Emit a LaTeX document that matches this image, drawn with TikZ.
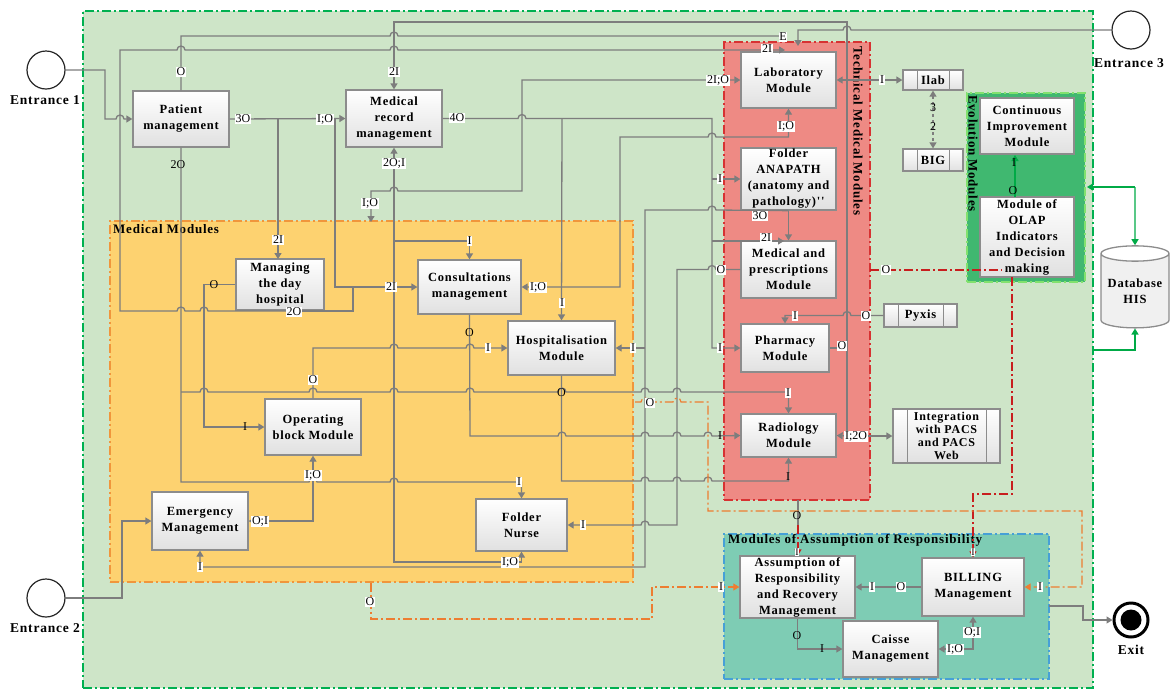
\documentclass[tikz,border=0pt]{standalone}
\usepackage{fontspec}
\setmainfont{Liberation Serif}
\newfontfamily\bxf[LetterSpace=6]{Liberation Serif}
\newfontfamily\lbf{Liberation Serif}
\usetikzlibrary{arrows.meta,shapes.geometric,calc}
\definecolor{bggreen}{RGB}{206,229,200}
\definecolor{brdgreen}{RGB}{0,176,80}
\definecolor{medfill}{RGB}{253,210,112}
\definecolor{medbrd}{RGB}{240,150,60}
\definecolor{techfill}{RGB}{238,138,132}
\definecolor{techbrd}{RGB}{215,50,50}
\definecolor{evofill}{RGB}{64,184,112}
\definecolor{evobrd}{RGB}{130,225,110}
\definecolor{assfill}{RGB}{126,204,180}
\definecolor{assbrd}{RGB}{70,160,215}
\definecolor{lgray}{RGB}{125,125,125}
\definecolor{bgray}{RGB}{140,140,140}
\definecolor{arrred}{RGB}{200,30,30}
\definecolor{arrorange}{RGB}{237,125,49}
\definecolor{grnline}{RGB}{0,170,70}
\tikzset{
 box/.style={draw=bgray, line width=1.3pt, top color=white, bottom color=black!12, align=center, inner sep=0pt, font=\bxf\bfseries\fontsize{12.5}{16}\selectfont},
 sub/.style={box, path picture={\draw[bgray,line width=1pt] ([xshift=14pt]path picture bounding box.north west) -- ([xshift=14pt]path picture bounding box.south west) ([xshift=-14pt]path picture bounding box.north east) -- ([xshift=-14pt]path picture bounding box.south east);}},
 ln/.style={draw=lgray, line width=1.3pt},
 arr/.style={-{Triangle[width=7pt,length=6pt]}},
 darr/.style={{Triangle[width=7pt,length=6pt]}-{Triangle[width=7pt,length=6pt]}},
 dd/.style={dash pattern=on 9pt off 3pt on 2pt off 3pt},
 cont/.style={line width=1.3pt, dd, inner sep=0pt, outer sep=0pt},
 reddd/.style={draw=arrred, line width=1.2pt, dd},
 orgdd/.style={draw=arrorange, line width=1.2pt, dd},
 grn/.style={draw=grnline, line width=1.3pt},
 lbl/.style={fill=white, inner sep=0.6pt, font=\lbf\fontsize{12}{12}\selectfont},
 nlbl/.style={inner sep=0.6pt, font=\lbf\fontsize{12}{12}\selectfont},
 slbl/.style={fill=white, inner sep=0.4pt, font=\lbf\fontsize{10}{10}\selectfont},
 ent/.style={circle, draw=black!85, fill=white, line width=1.2pt, minimum size=38pt, inner sep=0pt},
 entl/.style={font=\bxf\bfseries\fontsize{13.5}{15}\selectfont},
 ctitle/.style={font=\bxf\bfseries\fontsize{13}{14}\selectfont, inner sep=0pt},
 hr/.style 2 args={insert path={-- ({#1-4},#2) arc[start angle=180,end angle=360,radius=4]}},
 hl/.style 2 args={insert path={-- ({#1+4},#2) arc[start angle=0,end angle=-180,radius=4]}}
}
\begin{document}
\begin{tikzpicture}[x=1pt,y=-1pt]
\useasboundingbox (0,0) rectangle (1170,689);
% containers
\node[cont, draw=brdgreen, fill=bggreen, minimum width=1010pt, minimum height=677pt] (outer) at (588,349.5) {};
\node[cont, draw=medbrd, fill=medfill, minimum width=523pt, minimum height=361pt] (med) at (371.5,401.5) {};
\node[cont, draw=techbrd, fill=techfill, minimum width=146pt, minimum height=458pt] (tech) at (797,271) {};
\node[cont, draw=evobrd, fill=evofill, minimum width=118pt, minimum height=189pt] (evo) at (1026,187.5) {};
\node[cont, draw=assbrd, fill=assfill, minimum width=325pt, minimum height=145pt] (assc) at (886.5,606.5) {};
\node[ctitle, anchor=west] (medt) at (113,229) {Medical Modules};
\node[ctitle, anchor=west, rotate=-90] (techt) at (858,46) {Technical Medical Modules};
\node[ctitle, anchor=west, rotate=-90] (evot) at (973,95) {Evolution Modules};
\node[ctitle, anchor=west] (asst) at (728,540) {Modules of Assumption of Responsibility};

% entrances and exit
\node[ent] (e1) at (46,70) {};
\node[entl] (e1l) at (45,100) {Entrance 1};
\node[ent] (e2) at (46,598) {};
\node[entl] (e2l) at (45,628) {Entrance 2};
\node[ent] (e3) at (1131,30) {};
\node[entl] (e3l) at (1129,63) {Entrance 3};
\node[circle, draw=black, line width=3pt, fill=white, minimum size=34pt, inner sep=0pt] (exit) at (1131,620) {};
\node[circle, fill=black, minimum size=21pt, inner sep=0pt] (exitc) at (exit) {};
\node[entl] (exitl) at (1131,650) {Exit};

% boxes
\node[box, minimum width=96pt, minimum height=56pt] (pat) at (181,119) {Patient\\management};
\node[box, minimum width=96pt, minimum height=57pt] (mrm) at (394,118.5) {Medical\\record\\management};
\node[box, minimum width=95pt, minimum height=56pt] (lab) at (788.5,80) {Laboratory\\Module};
\node[box, minimum width=95pt, minimum height=62pt] (anapath) at (788.5,179) {Folder\\ANAPATH\\(anatomy and\\pathology)''};
\node[box, minimum width=95pt, minimum height=57pt] (medpresc) at (788.5,269.5) {Medical and\\prescriptions\\Module};
\node[box, minimum width=88pt, minimum height=48pt] (pharm) at (785,348) {Pharmacy\\Module};
\node[box, minimum width=95pt, minimum height=43pt] (radio) at (788.5,435.5) {Radiology\\Module};
\node[box, minimum width=94pt, minimum height=56pt] (cim) at (1027,126) {Continuous\\Improvement\\Module};
\node[box, minimum width=94pt, minimum height=80pt] (olap) at (1027,237) {Module of\\OLAP\\Indicators\\and Decision\\making};
\node[sub, minimum width=60pt, minimum height=20pt] (ilab) at (933,80) {Ilab};
\node[sub, minimum width=60pt, minimum height=22pt] (big) at (933,160) {BIG};
\node[sub, minimum width=73pt, minimum height=23pt] (pyxis) at (920.5,315.5) {Pyxis};
\node[sub, minimum width=107pt, minimum height=54pt, font=\bxf\bfseries\fontsize{12}{13}\selectfont] (pacs) at (946.5,436) {Integration\\with PACS\\and PACS\\Web};
\node[cylinder, shape border rotate=90, aspect=0.28, draw=bgray, line width=1.3pt, minimum width=68pt, minimum height=82pt, cylinder uses custom fill, cylinder body fill=black!6, cylinder end fill=white, align=center, inner sep=0pt, font=\bxf\bfseries\fontsize{12.5}{16}\selectfont] (db) at (1135,291) {Database\\HIS};
\node[box, minimum width=88pt, minimum height=51pt] (dayh) at (280,284.5) {Managing\\the day\\hospital};
\node[box, minimum width=103pt, minimum height=54pt] (consult) at (469.5,287) {Consultations\\management};
\node[box, minimum width=107pt, minimum height=54pt] (hosp) at (561.5,348) {Hospitalisation\\Module};
\node[box, minimum width=96pt, minimum height=56pt] (opblock) at (313,427) {Operating\\block Module};
\node[box, minimum width=96pt, minimum height=58pt] (emerg) at (200,521) {Emergency\\Management};
\node[box, minimum width=91pt, minimum height=52pt] (nurse) at (521.5,525) {Folder\\Nurse};
\node[box, minimum width=115pt, minimum height=62pt] (assump) at (797.5,587) {Assumption of\\Responsibility\\and Recovery\\Management};
\node[box, minimum width=102pt, minimum height=58pt] (billing) at (973,587) {BILLING\\Management};
\node[box, minimum width=95pt, minimum height=56pt] (caisse) at (890.5,649) {Caisse\\Management};

% connectors
\draw[ln,arr] (e1.east) -- (105,70) -- (105,119) [hr={120}{119}] -- (pat.west);
\draw[ln] (pat.north) -- (181,36) [hr={394}{36}] -- (783,36);
\draw[ln,arr] (300,311) [hl={204}{311}] [hl={181}{311}] -- (120,311) -- (120,50) [hr={181}{50}] [hr={394}{50}] -- (785,50);
\draw[ln] (300,311) -- (353,311) -- (353,287);
\draw[ln,arr] (pat.east) -- (mrm.west);
\draw[ln,arr] (278,119) -- (278,259);
\draw[ln,arr] (335,119) |- (consult.west);
\draw[ln,arr] (e3.west) [hl={847}{30}] -- (798,30) -- (798,46);
\draw[ln,arr] (847,436) -- (847,22) -- (394,22) -- (mrm.north);
\draw[ln,arr] (847,436) -- (radio.east);
\draw[ln,arr] (847,436) -- (pacs.west);
\draw[ln,darr] (mrm.south) -- (394,562) -| (nurse.south);
\draw[ln,arr] (394,241) -| (consult.north);
\draw[ln,arr] (mrm.east) [hr={522}{118.5}] -- (712,118.5) |- (pharm.west);
\draw[ln,arr] (712,179) -- (anapath.west);
\draw[ln,arr] (712,241) -- (784,241);
\draw[ln,arr] (562,118.5) -- (hosp.north);
\draw[ln,darr] (371,222) -- (371,191) [hr={394}{191}] -- (522,191) -- (522,80) -- (lab.west);
\draw[ln,darr] (lab.south) -- (788.5,137) [hl={712}{137}] -- (620,137) |- (consult.east);
\draw[ln,arr] (anapath.south) -- (medpresc.north);
\draw[ln,arr] (anapath.south) [hl={712}{210}] -- (645,210) -- (645,567) -| (emerg.south);
\draw[ln,arr] (645,348) -- (hosp.east);
\draw[ln,arr] (medpresc.west) [hl={712}{269.5}] -- (677,269.5) -- (677,525) [hl={645}{525}] -- (nurse.east);
\draw[ln,arr] (pyxis.west) [hl={847}{315.5}] -- (785,315.5) -- (pharm.north);
\draw[ln] (pharm.east) -- (847,348);
\draw[ln,darr] (lab.east) -- (ilab.west);
\draw[ln,darr,dashed] (ilab.south) -- (big.north);
\draw[ln,arr] (pat.south) -- (181,482) [hr={313}{482}] [hr={394}{482}] -| (nurse.north);
\draw[ln,arr] (181,392) [hr={204}{392}] [hr={313}{392}] [hr={394}{392}] [hr={470}{392}] [hr={562}{392}] [hr={645}{392}] [hr={677}{392}] -| (radio.north);
\draw[ln,arr] (dayh.west) -- (204,284.5) |- (opblock.west);
\draw[ln,arr] (opblock.north) -- (313,348) [hr={394}{348}] [hr={470}{348}] -- (hosp.west);
\draw[ln,arr] (consult.south) -- (470,436) [hr={562}{436}] [hr={645}{436}] [hr={677}{436}] [hr={708}{436}] -- (radio.west);
\draw[ln,arr] (hosp.south) -- (561.5,481) [hr={645}{481}] [hr={677}{481}] [hr={708}{481}] -| (radio.south);
\draw[ln,darr] (emerg.east) -| (opblock.south);
\draw[ln,arr] (e2.east) -- (122,598) |- (emerg.west);
\draw[ln] (798,500) -- (798,525);
\draw[reddd,arr] (798,525) -- (assump.north -| 798,0);
\draw[reddd] (870,270) -- (1002,270);
\draw[reddd,arr] (1012,277) -- (1012,494) -| (billing.north);
\draw[orgdd,arr] (635,402) [hr={645}{402}] [hr={677}{402}] -- (708,402) -- (708,511) -- (1082,511) |- (billing.east);
\draw[orgdd,arr] (371,583) -- (371,619) -- (652,619) |- (assump.west);
\draw[ln,arr] (billing.west) -- (assump.east);
\draw[ln,arr] (assump.south) |- (caisse.west);
\draw[ln,darr] (caisse.east) -| (billing.south);
\draw[ln,arr] (1049,606) -- (1083,606) |- (exit.west);
\draw[grn,arr] (1015,197) -- (1015,155);
\draw[grn,arr] (1135,187) -- (1087,187);
\draw[grn,arr] (1135,187) -- (db.north);
\draw[grn,arr] (1093,350) -- (1135,350) -- (db.south);

% port labels
\node[lbl] at (181,72) {O};
\node[lbl] at (783,37) {E};
\node[lbl] at (767,49) {2I};
\node[lbl] at (294,312) {2O};
\node[lbl] at (243,119) {3O};
\node[lbl] at (325,119) {I;O};
\node[lbl] at (278,240) {2I};
\node[lbl] at (391,287) {2I};
\node[lbl] at (394,72) {2I};
\node[lbl] at (856,436) {I;2O};
\node[lbl] at (394,163) {2O;I};
\node[lbl] at (510,562) {I;O};
\node[lbl] at (469.5,241) {I};
\node[lbl] at (457,118) {4O};
\node[lbl] at (720,348) {I};
\node[lbl] at (720,179) {I};
\node[lbl] at (766,238) {2I};
\node[lbl] at (562,303) {I};
\node[lbl] at (718,80) {2I;O};
\node[lbl] at (370,203) {I;O};
\node[lbl] at (786,126) {I;O};
\node[lbl] at (538,287) {I;O};
\node[lbl] at (760,216) {3O};
\node[lbl] at (200,567) {I};
\node[lbl] at (633,348) {I};
\node[lbl] at (721,270) {O};
\node[lbl] at (583,525) {I};
\node[lbl] at (866,316) {O};
\node[lbl] at (795,316) {I};
\node[lbl] at (842,346) {O};
\node[lbl] at (882,80) {I};
\node[nlbl] at (933,108) {3};
\node[nlbl] at (933,127) {2};
\node[nlbl] at (178,165) {2O};
\node[lbl] at (519,482) {I};
\node[lbl] at (788,393) {I};
\node[nlbl] at (214,285) {O};
\node[nlbl] at (245,427) {I};
\node[lbl] at (313,380) {O};
\node[lbl] at (488,348) {I};
\node[nlbl] at (469.5,333) {O};
\node[nlbl] at (720,436) {I};
\node[nlbl] at (561.5,393) {O};
\node[nlbl] at (788,477) {I};
\node[lbl] at (260,521) {O;I};
\node[lbl] at (313,475) {I;O};
\node[nlbl] at (797,516) {O};
\node[slbl] at (797,552) {I};
\node[lbl] at (886,270) {O};
\node[slbl] at (973,552) {I};
\node[lbl] at (650,403) {O};
\node[lbl] at (1040,587) {I};
\node[lbl] at (370,602) {O};
\node[lbl] at (721,587) {I};
\node[lbl] at (901,587) {O};
\node[lbl] at (872,587) {I};
\node[nlbl] at (797,636) {O};
\node[nlbl] at (822,649) {I};
\node[lbl] at (955,649) {I;O};
\node[lbl] at (972,632) {O;I};
\node[nlbl] at (1014,163) {I};
\node[nlbl] at (1013,191) {O};
\end{tikzpicture}
\end{document}
